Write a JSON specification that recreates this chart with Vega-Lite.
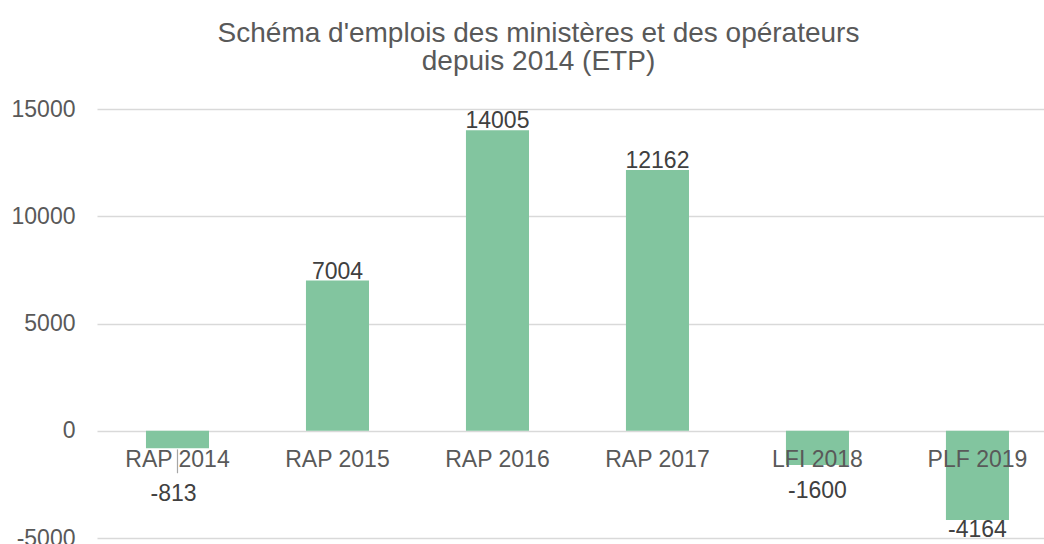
{
  "$schema": "https://vega.github.io/schema/vega-lite/v6.json",
  "width": 947,
  "height": 429,
  "autosize": {"type": "none"},
  "padding": {"left": 97, "top": 109, "right": 0, "bottom": 6},
  "background": "white",
  "config": {
    "view": {"stroke": null},
    "font": "Liberation Sans"
  },
  "title": {
    "text": ["Schéma d'emplois des ministères et des opérateurs", "depuis 2014 (ETP)"],
    "fontSize": 28,
    "fontWeight": "normal",
    "color": "#595959",
    "lineHeight": 28,
    "anchor": "middle",
    "dx": -32,
    "offset": 22,
    "font": "Liberation Sans"
  },
  "data": {
    "values": [
      {"cat": "RAP 2014", "val": -813},
      {"cat": "RAP 2015", "val": 7004},
      {"cat": "RAP 2016", "val": 14005},
      {"cat": "RAP 2017", "val": 12162},
      {"cat": "LFI 2018", "val": -1600},
      {"cat": "PLF 2019", "val": -4164}
    ]
  },
  "encoding": {
    "x": {
      "field": "cat",
      "type": "nominal",
      "sort": null,
      "scale": {"paddingInner": 0.606, "paddingOuter": 0.2625, "align": 0.583},
      "axis": {
        "title": null,
        "orient": "bottom",
        "offset": -107.3,
        "domain": false,
        "ticks": false,
        "labelAngle": 0,
        "labelFontSize": 23,
        "labelColor": "#595959",
        "labelFont": "Liberation Sans",
        "labelBaseline": "alphabetic",
        "labelPadding": 36,
        "zindex": 1,
        "grid": false
      }
    }
  },
  "layer": [
    {
      "mark": {"type": "bar", "color": "#82c59f"},
      "encoding": {
        "y": {
          "field": "val",
          "type": "quantitative",
          "scale": {"domain": [-5000, 15000], "nice": false, "zero": true},
          "axis": {
            "title": null,
            "values": [-5000, 0, 5000, 10000, 15000],
            "domain": false,
            "ticks": false,
            "labelFontSize": 23,
            "labelColor": "#595959",
            "labelFont": "Liberation Sans",
            "labelPadding": 22,
            "gridColor": "#d9d9d9",
            "gridWidth": 1.5,
            "labelExpr": "format(datum.value, 'd') == '0' ? '0' : replace(format(datum.value, 'd'), '\u2212', '-')",
            "zindex": 0
          }
        }
      }
    },
    {
      "transform": [{"filter": "datum.cat == 'RAP 2014'"}],
      "mark": {"type": "rule", "color": "#a6a6a6", "strokeWidth": 1.2},
      "encoding": {
        "y": {"datum": -870, "type": "quantitative"},
        "y2": {"datum": -1980}
      }
    },
    {
      "transform": [{"filter": "datum.val > 0"}],
      "mark": {"type": "text", "baseline": "alphabetic", "dy": -2, "fontSize": 23, "color": "#404040", "font": "Liberation Sans"},
      "encoding": {
        "y": {"field": "val", "type": "quantitative"},
        "text": {"field": "val", "type": "nominal"}
      }
    },
    {
      "transform": [{"filter": "datum.cat == 'RAP 2014'"}],
      "mark": {"type": "text", "baseline": "alphabetic", "dy": 53, "dx": -4, "fontSize": 23, "color": "#404040", "font": "Liberation Sans"},
      "encoding": {
        "y": {"field": "val", "type": "quantitative"},
        "text": {"field": "val", "type": "nominal"}
      }
    },
    {
      "transform": [{"filter": "datum.cat == 'LFI 2018'"}],
      "mark": {"type": "text", "baseline": "alphabetic", "dy": 33, "fontSize": 23, "color": "#404040", "font": "Liberation Sans"},
      "encoding": {
        "y": {"field": "val", "type": "quantitative"},
        "text": {"field": "val", "type": "nominal"}
      }
    },
    {
      "transform": [{"filter": "datum.cat == 'PLF 2019'"}],
      "mark": {"type": "text", "baseline": "alphabetic", "dy": 17, "fontSize": 23, "color": "#404040", "font": "Liberation Sans"},
      "encoding": {
        "y": {"field": "val", "type": "quantitative"},
        "text": {"field": "val", "type": "nominal"}
      }
    }
  ]
}
